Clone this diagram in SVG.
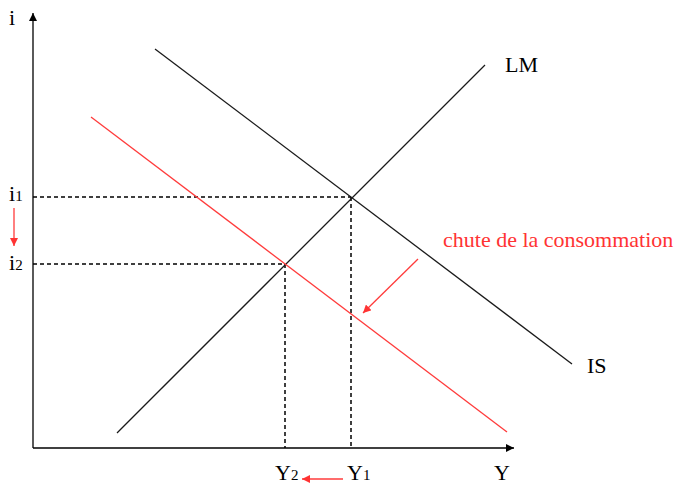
<svg xmlns="http://www.w3.org/2000/svg" width="683" height="484" viewBox="0 0 683 484">
<style>
text{font-family:"Liberation Serif","Times New Roman",serif;fill:#000}
.red{fill:#ff3333}
.ax{stroke:#000;stroke-width:1.3;fill:none}
.blk{stroke:#1a1a1a;stroke-width:1.3;fill:none}
.rl{stroke:#ff3b3b;stroke-width:1.3;fill:none}
.dash{stroke:#000;stroke-width:1.5;stroke-dasharray:4,3;fill:none}
</style>
<defs>
<marker id="ah" viewBox="0 0 10 10" refX="10" refY="5" markerWidth="8" markerHeight="8" markerUnits="userSpaceOnUse" orient="auto"><path d="M0,0L10,5L0,10z" fill="#000"/></marker>
<marker id="rah" viewBox="0 0 10 10" refX="10" refY="5" markerWidth="8" markerHeight="8" markerUnits="userSpaceOnUse" orient="auto"><path d="M0,0L10,5L0,10z" fill="#ff3333"/></marker>
</defs>
<g id="connectors">
<line class="ax" x1="33" y1="448" x2="33" y2="13" marker-end="url(#ah)"/>
<line class="ax" x1="33" y1="448" x2="514" y2="448" marker-end="url(#ah)"/>
<line class="dash" x1="33" y1="197" x2="351" y2="197"/>
<line class="dash" x1="33" y1="264" x2="285" y2="264"/>
<line class="dash" x1="351" y1="197" x2="351" y2="448"/>
<line class="dash" x1="285" y1="264" x2="285" y2="448"/>
<line class="rl" x1="418" y1="259" x2="363" y2="313" marker-end="url(#rah)"/>
<line class="rl" x1="14" y1="208" x2="14" y2="246" marker-end="url(#rah)"/>
<line class="rl" x1="343" y1="479" x2="302" y2="479" marker-end="url(#rah)"/>
</g>
<g id="LM"><line class="blk" x1="117" y1="433" x2="485" y2="65"/><text x="505" y="72" font-size="22">LM</text></g>
<g id="IS"><line class="blk" x1="155" y1="49" x2="572" y2="364"/><text x="587" y="373" font-size="22">IS</text></g>
<g id="IS2"><line class="rl" x1="91" y1="117" x2="507" y2="432"/></g>
<g id="labels">
<text x="9" y="25" font-size="22">i</text>
<text x="9" y="201" font-size="22">i<tspan font-size="15">1</tspan></text>
<text x="9" y="270" font-size="22">i<tspan font-size="15">2</tspan></text>
<text x="275" y="480" font-size="22">Y<tspan font-size="15">2</tspan></text>
<text x="347" y="480" font-size="22">Y<tspan font-size="15">1</tspan></text>
<text x="494" y="480" font-size="22">Y</text>
<text class="red" x="443" y="247" font-size="22">chute de la consommation</text>
</g>
</svg>
